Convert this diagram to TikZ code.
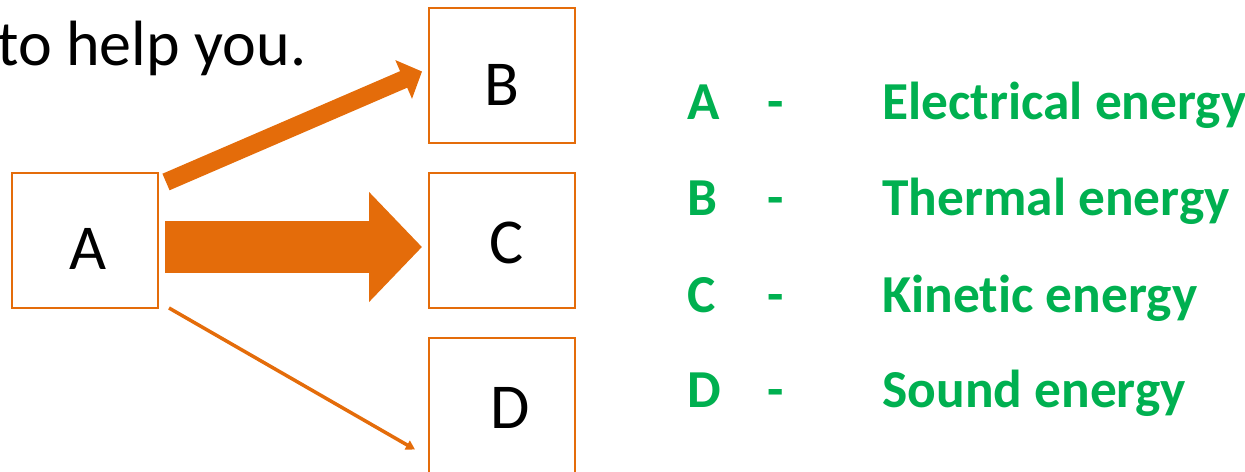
\documentclass[tikz,border=0pt]{standalone}
\usepackage{fontspec}
\setmainfont{Carlito}[Ligatures=NoCommon]
\usetikzlibrary{arrows.meta,positioning}
\definecolor{boxorange}{HTML}{E46C0A}
\definecolor{keygreen}{HTML}{00B050}

\begin{document}
\begin{tikzpicture}[
  x=0.5pt,y=-0.5pt,
  node distance=14pt and 134.5pt,
  box/.style={draw=boxorange,line width=1pt,fill=white,minimum width=73pt,minimum height=67.5pt,inner sep=0pt,text depth=0pt,font=\fontsize{32}{36}\selectfont},
  key/.style={anchor=base west,inner sep=0pt,text=keygreen,font=\fontsize{26.7}{30}\selectfont\bfseries},
  flow/.style={draw=boxorange,line cap=butt}
]
  \useasboundingbox (0,0) rectangle (1245,471);
  \node[anchor=base west,inner sep=0pt,font=\fontsize{32}{36}\selectfont] (intro) at (-3,65) {to help you.};

  \node[box,text height=28.6pt] (A) at (85,240.5) {\hspace*{3.5pt}A};
  \node[box,text height=22.6pt,right=of A] (C) {\hspace*{5pt}C};
  \node[box,text height=29.6pt,above=of C] (B) {B};
  \node[box,text height=23.1pt,below=of C] (D) {\hspace*{8pt}D};

  % energy flows out of A
  \draw[flow,line width=9pt,-{Triangle[width=20.5pt,length=10pt]}] ([shift={(7,10)}]A.north east) -- ([shift={(-6,-4)}]B.west);
  \draw[flow,line width=26pt,-{Triangle[width=53.5pt,length=26.5pt]}] ([shift={(6,6.5)}]A.east) -- ([shift={(-6,6.5)}]C.west);
  \draw[flow,line width=1.75pt,-{Triangle[width=5pt,length=4.5pt]}] ([shift={(10,-1)}]A.south east) -- ([shift={(-13,44)}]D.west);

  % key
  \foreach \letter/\energy/\y [count=\i] in {A/Electrical energy/119,B/Thermal energy/215,C/Kinetic energy/312,D/Sound energy/407} {
    \node[key] (letter\i) at (687,\y) {\letter};
    \node[key] (dash\i) at (767,\y) {-};
    \node[key] (energy\i) at (882,\y) {\energy};
  }
\end{tikzpicture}
\end{document}
